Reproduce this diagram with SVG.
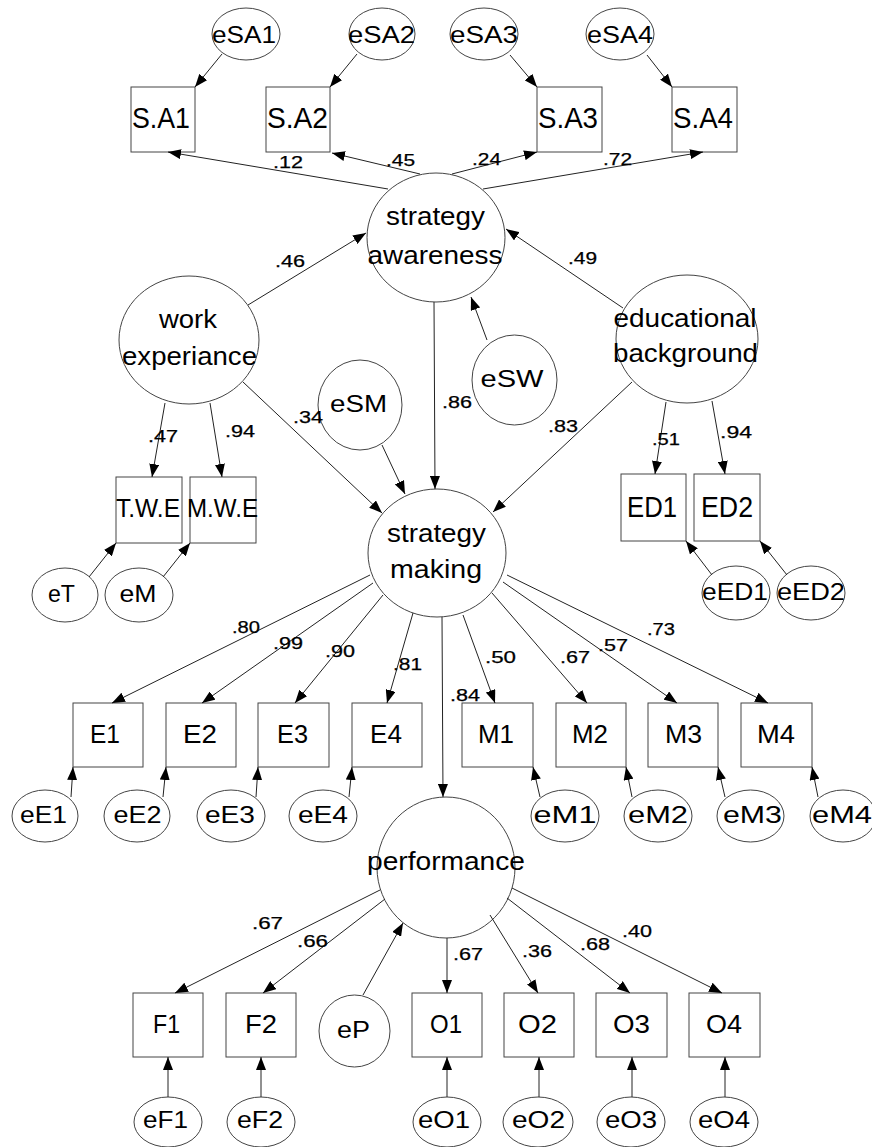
<svg xmlns="http://www.w3.org/2000/svg" width="872" height="1147" viewBox="0 0 872 1147">
<style>
.b{fill:#fff;stroke:#444;stroke-width:1}
.t{font-family:"Liberation Sans",Arial,sans-serif;text-anchor:middle;fill:#000}
.s23{font-size:23px}.s24{font-size:24px}.s25{font-size:25px}.s30{font-size:30px}
.c line{stroke:#222;stroke-width:1;marker-end:url(#arr)}
.l{font-family:"Liberation Sans",Arial,sans-serif;font-size:16px;fill:#000;stroke:#000;stroke-width:0.25}
</style>
<defs>
<marker id="arr" markerWidth="13" markerHeight="10" refX="13" refY="5" orient="auto" markerUnits="userSpaceOnUse"><path d="M0,0 L13,5 L0,10 z" fill="#000"/></marker>
</defs>
<rect width="872" height="1147" fill="#fff"/>
<g id="nodes">
<g id="SA1"><rect class="b" x="131" y="87" width="64" height="65"/><text class="t s30" x="161" y="128" textLength="58" lengthAdjust="spacingAndGlyphs">S.A1</text></g>
<g id="SA2"><rect class="b" x="266" y="87" width="64" height="65"/><text class="t s30" x="297.5" y="128" textLength="61" lengthAdjust="spacingAndGlyphs">S.A2</text></g>
<g id="SA3"><rect class="b" x="537" y="87" width="65" height="65"/><text class="t s30" x="568" y="128" textLength="60" lengthAdjust="spacingAndGlyphs">S.A3</text></g>
<g id="SA4"><rect class="b" x="672" y="87" width="65" height="65"/><text class="t s30" x="703" y="128" textLength="60" lengthAdjust="spacingAndGlyphs">S.A4</text></g>
<g id="eSA1"><ellipse class="b" cx="246" cy="34" rx="34" ry="26"/><text class="t s24" x="244" y="43" textLength="64" lengthAdjust="spacingAndGlyphs">eSA1</text></g>
<g id="eSA2"><ellipse class="b" cx="382" cy="34" rx="33" ry="26"/><text class="t s24" x="381.5" y="43" textLength="67" lengthAdjust="spacingAndGlyphs">eSA2</text></g>
<g id="eSA3"><ellipse class="b" cx="484" cy="34" rx="34" ry="26"/><text class="t s24" x="484" y="43" textLength="68" lengthAdjust="spacingAndGlyphs">eSA3</text></g>
<g id="eSA4"><ellipse class="b" cx="620" cy="34" rx="34" ry="26"/><text class="t s24" x="620" y="43" textLength="66" lengthAdjust="spacingAndGlyphs">eSA4</text></g>
<g id="strategy_awareness"><ellipse class="b" cx="436" cy="237.5" rx="69" ry="64.5"/><text class="t s25" x="435.5" y="225" textLength="99" lengthAdjust="spacingAndGlyphs">strategy</text><text class="t s25" x="435" y="264" textLength="135" lengthAdjust="spacingAndGlyphs">awareness</text></g>
<g id="work_experiance"><ellipse class="b" cx="189" cy="340" rx="70" ry="64"/><text class="t s25" x="188" y="328" textLength="58" lengthAdjust="spacingAndGlyphs">work</text><text class="t s25" x="189.5" y="365" textLength="135" lengthAdjust="spacingAndGlyphs">experiance</text></g>
<g id="educational_background"><ellipse class="b" cx="687" cy="339" rx="71" ry="64"/><text class="t s25" x="685" y="327" textLength="143" lengthAdjust="spacingAndGlyphs">educational</text><text class="t s25" x="685.5" y="362" textLength="145" lengthAdjust="spacingAndGlyphs">background</text></g>
<g id="eSM"><ellipse class="b" cx="360" cy="405" rx="42" ry="45"/><text class="t s24" x="358.5" y="412" textLength="57" lengthAdjust="spacingAndGlyphs">eSM</text></g>
<g id="eSW"><ellipse class="b" cx="514.5" cy="380" rx="42.5" ry="45"/><text class="t s24" x="512" y="387" textLength="63" lengthAdjust="spacingAndGlyphs">eSW</text></g>
<g id="TWE"><rect class="b" x="116" y="477" width="66" height="66"/><text class="t s25" x="148" y="517" textLength="64" lengthAdjust="spacingAndGlyphs">T.W.E</text></g>
<g id="MWE"><rect class="b" x="190" y="477" width="66" height="66"/><text class="t s25" x="222.5" y="517" textLength="71" lengthAdjust="spacingAndGlyphs">M.W.E</text></g>
<g id="eT"><ellipse class="b" cx="65" cy="595" rx="33" ry="27"/><text class="t s23" x="61.5" y="602" textLength="27" lengthAdjust="spacingAndGlyphs">eT</text></g>
<g id="eM"><ellipse class="b" cx="139" cy="595" rx="34" ry="27"/><text class="t s23" x="138" y="602" textLength="37" lengthAdjust="spacingAndGlyphs">eM</text></g>
<g id="ED1"><rect class="b" x="621" y="474" width="65" height="67"/><text class="t s30" x="652" y="517" textLength="50" lengthAdjust="spacingAndGlyphs">ED1</text></g>
<g id="ED2"><rect class="b" x="694" y="474" width="66" height="67"/><text class="t s30" x="727" y="517" textLength="52" lengthAdjust="spacingAndGlyphs">ED2</text></g>
<g id="eED1"><ellipse class="b" cx="736" cy="593" rx="34" ry="27"/><text class="t s23" x="735" y="600" textLength="66" lengthAdjust="spacingAndGlyphs">eED1</text></g>
<g id="eED2"><ellipse class="b" cx="811" cy="593" rx="34" ry="27"/><text class="t s23" x="811" y="600" textLength="68" lengthAdjust="spacingAndGlyphs">eED2</text></g>
<g id="strategy_making"><ellipse class="b" cx="437" cy="553" rx="69" ry="64"/><text class="t s25" x="436.5" y="542" textLength="99" lengthAdjust="spacingAndGlyphs">strategy</text><text class="t s25" x="436" y="578" textLength="92" lengthAdjust="spacingAndGlyphs">making</text></g>
<g id="E1"><rect class="b" x="73" y="703" width="70" height="64"/><text class="t s25" x="105" y="743" textLength="30" lengthAdjust="spacingAndGlyphs">E1</text></g>
<g id="E2"><rect class="b" x="166" y="703" width="70" height="64"/><text class="t s25" x="200" y="743" textLength="34" lengthAdjust="spacingAndGlyphs">E2</text></g>
<g id="E3"><rect class="b" x="258" y="703" width="71" height="64"/><text class="t s25" x="292.5" y="743" textLength="31" lengthAdjust="spacingAndGlyphs">E3</text></g>
<g id="E4"><rect class="b" x="352" y="703" width="70" height="64"/><text class="t s25" x="386" y="743" textLength="32" lengthAdjust="spacingAndGlyphs">E4</text></g>
<g id="M1"><rect class="b" x="462" y="703" width="71" height="64"/><text class="t s25" x="496" y="743" textLength="36" lengthAdjust="spacingAndGlyphs">M1</text></g>
<g id="M2"><rect class="b" x="556" y="703" width="70" height="64"/><text class="t s25" x="590" y="743" textLength="36" lengthAdjust="spacingAndGlyphs">M2</text></g>
<g id="M3"><rect class="b" x="648" y="703" width="70" height="64"/><text class="t s25" x="683.5" y="743" textLength="37" lengthAdjust="spacingAndGlyphs">M3</text></g>
<g id="M4"><rect class="b" x="741" y="703" width="71" height="64"/><text class="t s25" x="776" y="743" textLength="38" lengthAdjust="spacingAndGlyphs">M4</text></g>
<g id="eE1"><ellipse class="b" cx="45" cy="816" rx="33" ry="26"/><text class="t s23" x="43.5" y="823" textLength="47" lengthAdjust="spacingAndGlyphs">eE1</text></g>
<g id="eE2"><ellipse class="b" cx="137" cy="816" rx="33" ry="26"/><text class="t s23" x="137.5" y="823" textLength="48" lengthAdjust="spacingAndGlyphs">eE2</text></g>
<g id="eE3"><ellipse class="b" cx="231" cy="816" rx="34" ry="26"/><text class="t s23" x="230" y="823" textLength="50" lengthAdjust="spacingAndGlyphs">eE3</text></g>
<g id="eE4"><ellipse class="b" cx="323" cy="816" rx="34" ry="26"/><text class="t s23" x="323" y="823" textLength="50" lengthAdjust="spacingAndGlyphs">eE4</text></g>
<g id="eM1"><ellipse class="b" cx="565" cy="816" rx="34" ry="26"/><text class="t s23" x="565" y="823" textLength="63" lengthAdjust="spacingAndGlyphs">eM1</text></g>
<g id="eM2"><ellipse class="b" cx="658" cy="816" rx="34" ry="26"/><text class="t s23" x="658" y="823" textLength="60" lengthAdjust="spacingAndGlyphs">eM2</text></g>
<g id="eM3"><ellipse class="b" cx="750.5" cy="816" rx="33.5" ry="26"/><text class="t s23" x="752.5" y="823" textLength="59" lengthAdjust="spacingAndGlyphs">eM3</text></g>
<g id="eM4"><ellipse class="b" cx="843" cy="816" rx="33" ry="26"/><text class="t s23" x="842" y="823" textLength="60" lengthAdjust="spacingAndGlyphs">eM4</text></g>
<g id="performance"><ellipse class="b" cx="446" cy="867.5" rx="69" ry="70.5"/><text class="t s25" x="446" y="870" textLength="158" lengthAdjust="spacingAndGlyphs">performance</text></g>
<g id="F1"><rect class="b" x="133" y="993" width="70" height="64"/><text class="t s25" x="166.5" y="1033" textLength="27" lengthAdjust="spacingAndGlyphs">F1</text></g>
<g id="F2"><rect class="b" x="226" y="993" width="70" height="64"/><text class="t s25" x="261" y="1033" textLength="32" lengthAdjust="spacingAndGlyphs">F2</text></g>
<g id="eP"><ellipse class="b" cx="354.5" cy="1031" rx="35.5" ry="36"/><text class="t s24" x="353.5" y="1038" textLength="33" lengthAdjust="spacingAndGlyphs">eP</text></g>
<g id="O1"><rect class="b" x="412" y="993" width="70" height="64"/><text class="t s25" x="446" y="1033" textLength="32" lengthAdjust="spacingAndGlyphs">O1</text></g>
<g id="O2"><rect class="b" x="504" y="993" width="70" height="64"/><text class="t s25" x="537.5" y="1033" textLength="39" lengthAdjust="spacingAndGlyphs">O2</text></g>
<g id="O3"><rect class="b" x="596" y="993" width="71" height="64"/><text class="t s25" x="631.5" y="1033" textLength="37" lengthAdjust="spacingAndGlyphs">O3</text></g>
<g id="O4"><rect class="b" x="689" y="993" width="71" height="64"/><text class="t s25" x="724" y="1033" textLength="36" lengthAdjust="spacingAndGlyphs">O4</text></g>
<g id="eF1"><ellipse class="b" cx="168" cy="1122" rx="34" ry="25"/><text class="t s23" x="165.5" y="1128" textLength="45" lengthAdjust="spacingAndGlyphs">eF1</text></g>
<g id="eF2"><ellipse class="b" cx="261" cy="1122" rx="34" ry="25"/><text class="t s23" x="260" y="1128" textLength="46" lengthAdjust="spacingAndGlyphs">eF2</text></g>
<g id="eO1"><ellipse class="b" cx="447" cy="1122" rx="34" ry="25"/><text class="t s23" x="444" y="1128" textLength="52" lengthAdjust="spacingAndGlyphs">eO1</text></g>
<g id="eO2"><ellipse class="b" cx="538" cy="1122" rx="35" ry="25"/><text class="t s23" x="538.5" y="1128" textLength="53" lengthAdjust="spacingAndGlyphs">eO2</text></g>
<g id="eO3"><ellipse class="b" cx="631" cy="1122" rx="34" ry="25"/><text class="t s23" x="631" y="1128" textLength="52" lengthAdjust="spacingAndGlyphs">eO3</text></g>
<g id="eO4"><ellipse class="b" cx="724" cy="1122" rx="34" ry="25"/><text class="t s23" x="724" y="1128" textLength="52" lengthAdjust="spacingAndGlyphs">eO4</text></g>
</g>
<g id="connectors" class="c">
<line x1="222" y1="54" x2="195" y2="87"/>
<line x1="357" y1="54" x2="330" y2="87"/>
<line x1="510" y1="55" x2="537" y2="87"/>
<line x1="647" y1="55" x2="672" y2="87"/>
<line x1="388" y1="189" x2="168" y2="152"/>
<line x1="420" y1="174" x2="332" y2="153"/>
<line x1="452" y1="174" x2="537" y2="152"/>
<line x1="483" y1="189" x2="703" y2="152"/>
<line x1="248" y1="305" x2="366" y2="233"/>
<line x1="623" y1="308" x2="506" y2="229"/>
<line x1="487" y1="340" x2="471" y2="297"/>
<line x1="434" y1="302" x2="435" y2="489"/>
<line x1="243" y1="382" x2="382" y2="513"/>
<line x1="382" y1="445" x2="405" y2="494"/>
<line x1="632" y1="382" x2="493" y2="512"/>
<line x1="165" y1="403" x2="152" y2="477"/>
<line x1="210" y1="403" x2="222" y2="477"/>
<line x1="89" y1="577" x2="116" y2="543"/>
<line x1="163" y1="577" x2="190" y2="543"/>
<line x1="666" y1="402" x2="655" y2="474"/>
<line x1="712" y1="401" x2="725" y2="474"/>
<line x1="712" y1="575" x2="686" y2="541"/>
<line x1="787" y1="575" x2="760" y2="541"/>
<line x1="370" y1="575" x2="112" y2="703"/>
<line x1="373" y1="583" x2="202" y2="703"/>
<line x1="383" y1="595" x2="295" y2="703"/>
<line x1="413" y1="613" x2="387" y2="703"/>
<line x1="442" y1="617" x2="443" y2="797"/>
<line x1="463" y1="615" x2="495" y2="703"/>
<line x1="492" y1="593" x2="587" y2="703"/>
<line x1="503" y1="582" x2="677" y2="703"/>
<line x1="507" y1="575" x2="768" y2="703"/>
<line x1="71" y1="797" x2="73" y2="767"/>
<line x1="163" y1="797" x2="166" y2="767"/>
<line x1="256" y1="797" x2="258" y2="767"/>
<line x1="349" y1="797" x2="352" y2="767"/>
<line x1="540" y1="797" x2="533" y2="767"/>
<line x1="632" y1="797" x2="626" y2="767"/>
<line x1="725" y1="797" x2="718" y2="767"/>
<line x1="818" y1="797" x2="812" y2="767"/>
<line x1="380" y1="890" x2="175" y2="993"/>
<line x1="385" y1="899" x2="263" y2="993"/>
<line x1="363" y1="995" x2="403" y2="923"/>
<line x1="447" y1="938" x2="447" y2="993"/>
<line x1="490" y1="915" x2="538" y2="993"/>
<line x1="507" y1="898" x2="630" y2="993"/>
<line x1="512" y1="888" x2="722" y2="993"/>
<line x1="168" y1="1097" x2="168" y2="1057"/>
<line x1="261" y1="1097" x2="261" y2="1057"/>
<line x1="447" y1="1097" x2="447" y2="1057"/>
<line x1="539" y1="1097" x2="539" y2="1057"/>
<line x1="632" y1="1097" x2="632" y2="1057"/>
<line x1="725" y1="1097" x2="725" y2="1057"/>
</g>
<g id="labels" class="l">
<text x="273" y="168" textLength="30" lengthAdjust="spacingAndGlyphs">.12</text>
<text x="386" y="166" textLength="29" lengthAdjust="spacingAndGlyphs">.45</text>
<text x="472" y="165" textLength="29" lengthAdjust="spacingAndGlyphs">.24</text>
<text x="603" y="165" textLength="29" lengthAdjust="spacingAndGlyphs">.72</text>
<text x="275" y="267" textLength="30" lengthAdjust="spacingAndGlyphs">.46</text>
<text x="568" y="264" textLength="29" lengthAdjust="spacingAndGlyphs">.49</text>
<text x="442" y="408" textLength="30" lengthAdjust="spacingAndGlyphs">.86</text>
<text x="293" y="423" textLength="30" lengthAdjust="spacingAndGlyphs">.34</text>
<text x="548" y="432" textLength="30" lengthAdjust="spacingAndGlyphs">.83</text>
<text x="148" y="442" textLength="30" lengthAdjust="spacingAndGlyphs">.47</text>
<text x="225" y="437" textLength="30" lengthAdjust="spacingAndGlyphs">.94</text>
<text x="652" y="445" textLength="28" lengthAdjust="spacingAndGlyphs">.51</text>
<text x="720" y="438" textLength="32" lengthAdjust="spacingAndGlyphs">.94</text>
<text x="232" y="633" textLength="28" lengthAdjust="spacingAndGlyphs">.80</text>
<text x="273" y="649" textLength="30" lengthAdjust="spacingAndGlyphs">.99</text>
<text x="325" y="657" textLength="30" lengthAdjust="spacingAndGlyphs">.90</text>
<text x="393" y="670" textLength="29" lengthAdjust="spacingAndGlyphs">.81</text>
<text x="450" y="701" textLength="30" lengthAdjust="spacingAndGlyphs">.84</text>
<text x="485" y="663" textLength="31" lengthAdjust="spacingAndGlyphs">.50</text>
<text x="560" y="663" textLength="30" lengthAdjust="spacingAndGlyphs">.67</text>
<text x="598" y="651" textLength="30" lengthAdjust="spacingAndGlyphs">.57</text>
<text x="647" y="635" textLength="28" lengthAdjust="spacingAndGlyphs">.73</text>
<text x="252" y="929" textLength="31" lengthAdjust="spacingAndGlyphs">.67</text>
<text x="297" y="947" textLength="31" lengthAdjust="spacingAndGlyphs">.66</text>
<text x="453" y="960" textLength="30" lengthAdjust="spacingAndGlyphs">.67</text>
<text x="522" y="957" textLength="30" lengthAdjust="spacingAndGlyphs">.36</text>
<text x="580" y="950" textLength="30" lengthAdjust="spacingAndGlyphs">.68</text>
<text x="622" y="937" textLength="30" lengthAdjust="spacingAndGlyphs">.40</text>
</g>
</svg>
